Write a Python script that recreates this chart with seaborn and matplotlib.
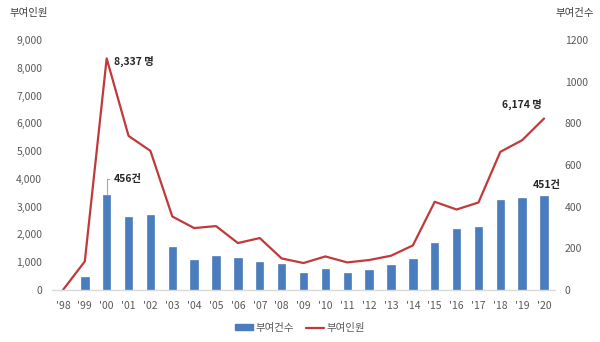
import numpy as np
import pandas as pd
import matplotlib
matplotlib.use("Agg")
import matplotlib.pyplot as plt
import seaborn as sns

years = ["'98", "'99", "'00", "'01", "'02", "'03", "'04", "'05", "'06", "'07", "'08",
         "'09", "'10", "'11", "'12", "'13", "'14", "'15", "'16", "'17", "'18", "'19", "'20"]
cases = [0, 63, 456, 351, 361, 208, 144, 163, 156, 134, 125,
         84, 101, 84, 97, 118, 147, 228, 292, 302, 430, 441, 451]
persons = [0, 1030, 8337, 5548, 5009, 2647, 2229, 2301, 1690, 1870, 1136,
           971, 1208, 993, 1079, 1233, 1604, 3175, 2898, 3150, 4973, 5394, 6174]
left_ticks = [0, 1000, 2000, 3000, 4000, 5000, 6000, 7000, 8000, 9000]
right_ticks = [0, 200, 400, 600, 800, 1000, 1200]

sns.set_theme(style="white")
plt.rcParams['font.family'] = ['Noto Sans CJK KR', 'DejaVu Sans']

df = pd.DataFrame({"year": years, "cases": cases, "persons": persons})

fig = plt.figure(figsize=(6, 3.42), dpi=100)
W, H = 600, 342
ax = fig.add_axes([52 / W, (H - 290) / H, (555 - 52) / W, (290 - 40) / H])
ax2 = ax.twinx()

bar_color = '#4A7DBF'
line_color = '#C0393B'
tick_color = '#595959'

sns.barplot(data=df, x="year", y="cases", ax=ax2, color=bar_color, width=0.34,
            saturation=1, edgecolor='#3F6FAE', linewidth=0.4)
sns.lineplot(x=np.arange(len(years)), y=df["persons"], ax=ax, color=line_color,
             linewidth=1.6)

ax.set_zorder(ax2.get_zorder() + 1)
ax.patch.set_visible(False)

ax.set_xlim(-0.5, len(years) - 0.5)
ax.set_ylim(0, 9000)
ax2.set_ylim(0, 1200)
ax.set_yticks(left_ticks)
ax.set_yticklabels([f"{v:,}" for v in left_ticks])
ax2.set_yticks(right_ticks)
ax2.set_yticklabels([str(v) for v in right_ticks])
ax.set_xticks(np.arange(len(years)))
ax.set_xticklabels(years)

for a in (ax, ax2):
    a.set_xlabel("")
    a.set_ylabel("")
    for s in a.spines.values():
        s.set_visible(False)
    a.grid(False)
ax.spines['bottom'].set_visible(True)
ax.spines['bottom'].set_color('#D9D9D9')
ax.spines['bottom'].set_linewidth(1.0)

ax.tick_params(axis='y', length=0, labelsize=7.5, labelcolor=tick_color, pad=7)
ax.tick_params(axis='x', length=0, labelsize=7.5, labelcolor=tick_color, pad=8)
ax2.tick_params(axis='y', length=0, labelsize=7.5, labelcolor=tick_color, pad=7)

# axis titles
fig.text(10 / W, 1 - 13 / H, "부여인원", fontsize=7.5, color='#404040', ha='left', va='center')
fig.text(594 / W, 1 - 13 / H, "부여건수", fontsize=7.5, color='#404040', ha='right', va='center')

# annotations
ax.annotate("8,337 명", xy=(2, persons[2]), xytext=(5, -2), textcoords='offset points',
            fontsize=7.5, fontweight='bold', color='#262626', ha='left', va='center')
ax.annotate("6,174 명", xy=(22, persons[22]), xytext=(-30, 10), textcoords='offset points',
            fontsize=7.5, fontweight='bold', color='#262626', ha='left', va='center')
ax2.annotate("456건", xy=(2, cases[2] + 4), xytext=(5, 11), textcoords='offset points',
             fontsize=7.5, fontweight='bold', color='#262626', ha='left', va='center',
             arrowprops=dict(arrowstyle='-', color='#A6A6A6', lw=0.8,
                             connectionstyle='angle,angleA=180,angleB=90,rad=0',
                             shrinkA=1, shrinkB=0))
ax2.annotate("451건", xy=(22, cases[22]), xytext=(-8, 8), textcoords='offset points',
             fontsize=7.5, fontweight='bold', color='#262626', ha='left', va='center')

# legend
from matplotlib.patches import Patch
from matplotlib.lines import Line2D
handles = [Patch(facecolor=bar_color, edgecolor=bar_color),
           Line2D([0], [0], color=line_color, linewidth=1.6)]
leg = fig.legend(handles, ["부여건수", "부여인원"], loc='center', ncol=2,
                 bbox_to_anchor=(0.5, (H - 328) / H), frameon=False, fontsize=7.5,
                 handlelength=1.7, handleheight=0.5, columnspacing=1.2, handletextpad=0.2)
for t in leg.get_texts():
    t.set_color(tick_color)

fig.savefig("out.png", dpi=100)
